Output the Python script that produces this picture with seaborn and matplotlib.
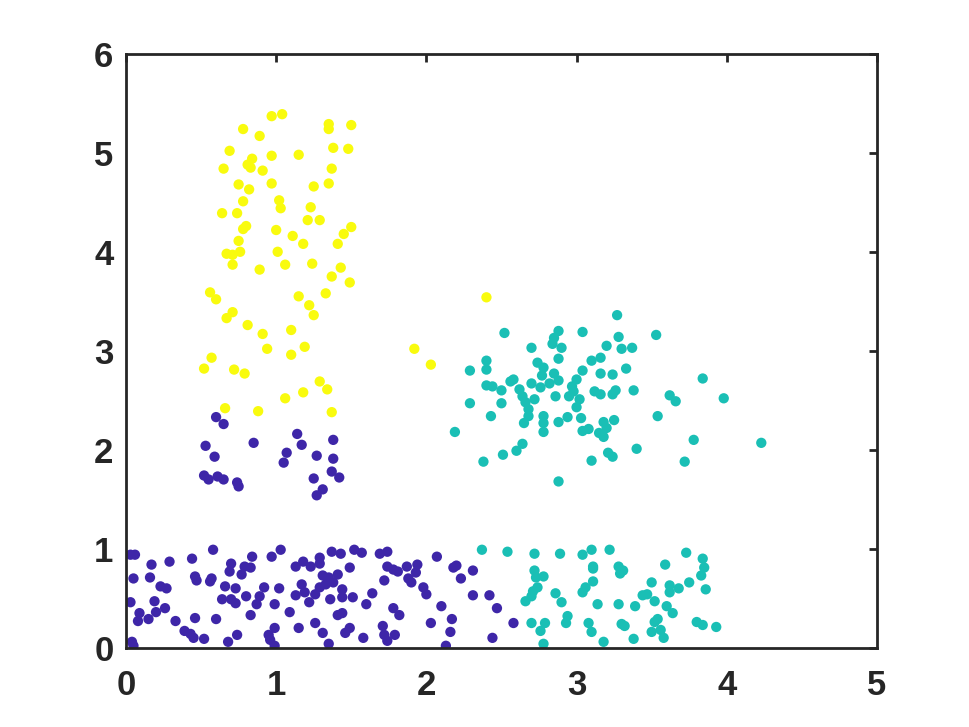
import numpy as np
import pandas as pd
import matplotlib
matplotlib.use("Agg")
import matplotlib.pyplot as plt
import seaborn as sns

# ---- data: three clusters ----
purple_x = [0.60, 0.65, 0.53, 0.59, 0.85, 0.52, 0.55, 0.61, 0.65, 0.74, 0.75, 1.14, 1.17, 1.07,
            1.05, 1.27, 1.38, 1.38, 1.37, 1.42, 1.25, 1.31, 1.27,
            0.03, 0.06, 0.58, 0.17, 0.29, 0.44, 0.05, 0.16, 0.23, 0.27, 0.46, 0.47, 0.56, 0.57,
            0.70, 0.69, 0.77, 0.79, 0.83, 0.84, 0.97, 1.03, 0.66, 0.73, 0.80, 0.87, 0.89, 0.92,
            1.02, 0.99, 1.13, 1.13, 0.03, 0.19, 0.20, 0.26, 0.09, 0.08, 0.15, 0.33, 0.46, 0.60,
            0.64, 0.70, 0.73, 0.83, 1.09, 0.39, 0.43, 0.45, 0.52, 0.68, 0.74, 0.04, 0.05, 0.95,
            0.99, 0.96, 0.99, 1.15,
            1.37, 1.43, 1.52, 1.57, 1.69, 1.74, 2.07, 1.18, 1.23, 1.29, 1.29, 1.49, 1.74, 1.78,
            1.81, 1.87, 1.94, 1.93, 1.88, 1.90, 2.18, 2.20, 2.23, 1.31, 1.35, 1.41, 1.17, 1.72,
            1.33, 1.38, 1.29, 1.19, 1.26, 1.22, 1.44, 1.44, 1.51, 1.36, 1.64, 1.60, 1.98, 2.00,
            1.78, 1.82, 1.41, 1.44, 2.10, 2.17, 2.03, 1.26, 1.31, 1.46, 1.49, 1.71, 1.72, 1.79,
            1.74, 1.58, 1.35, 2.16, 2.13,
            2.31, 2.31, 2.42, 2.47, 2.58, 2.44]
purple_y = [2.33, 2.26, 2.04, 1.93, 2.07, 1.74, 1.70, 1.73, 1.70, 1.67, 1.63, 2.16, 2.05, 1.97,
            1.87, 1.94, 2.10, 1.91, 1.78, 1.72, 1.71, 1.60, 1.54,
            0.94, 0.94, 0.99, 0.84, 0.87, 0.90, 0.70, 0.71, 0.62, 0.60, 0.72, 0.68, 0.67, 0.70,
            0.85, 0.77, 0.74, 0.82, 0.81, 0.92, 0.92, 0.99, 0.62, 0.60, 0.52, 0.44, 0.52, 0.61,
            0.60, 0.44, 0.82, 0.53, 0.46, 0.47, 0.36, 0.40, 0.35, 0.27, 0.29, 0.27, 0.30, 0.29,
            0.49, 0.49, 0.45, 0.33, 0.36, 0.17, 0.14, 0.10, 0.09, 0.06, 0.13, 0.06, 0.02, 0.13,
            0.20, 0.08, 0.02, 0.20,
            0.97, 0.95, 0.99, 0.96, 0.95, 0.97, 0.92, 0.87, 0.82, 0.91, 0.85, 0.81, 0.82, 0.79,
            0.77, 0.82, 0.84, 0.76, 0.70, 0.66, 0.81, 0.83, 0.70, 0.73, 0.71, 0.74, 0.64, 0.68,
            0.64, 0.66, 0.61, 0.56, 0.54, 0.46, 0.59, 0.51, 0.51, 0.49, 0.55, 0.44, 0.61, 0.54,
            0.40, 0.33, 0.33, 0.35, 0.42, 0.29, 0.25, 0.25, 0.15, 0.15, 0.20, 0.22, 0.13, 0.13,
            0.07, 0.10, 0.04, 0.16, 0.02,
            0.78, 0.53, 0.53, 0.40, 0.25, 0.10]

teal_x = [2.52, 2.88, 3.04, 2.85, 2.84, 2.90, 2.70, 3.20, 2.88, 2.40, 2.40, 2.29, 2.74, 2.78,
          3.10, 3.16, 3.04, 3.16, 2.85, 2.77, 2.88, 3.00, 2.58, 2.56, 2.70, 2.82, 2.76, 2.40,
          2.44, 2.50, 2.62, 2.97, 2.98, 2.64, 2.72, 2.66, 2.95, 3.12, 3.16, 2.86, 3.02, 3.00,
          2.29, 2.50, 2.68, 2.68, 2.43, 2.78, 2.78, 2.94, 2.88, 2.65, 3.03, 3.18, 3.08, 3.04,
          3.15, 3.18, 2.78, 2.19, 2.64, 2.60, 2.51, 2.38, 3.10, 3.21, 2.88,
          3.27, 3.53, 3.28, 3.30, 3.37, 3.24, 3.33, 3.84, 3.26, 3.24, 3.38, 3.62, 3.66, 3.98,
          3.54, 3.25, 3.20, 3.78, 4.23, 3.40, 3.24, 3.72,
          2.37, 2.54, 2.72, 2.89, 3.04, 3.10, 3.22, 2.72, 2.73, 2.78, 3.11, 3.11, 3.11, 3.06,
          3.04, 3.28, 3.31, 3.29, 2.74, 2.71, 2.70, 2.66, 2.86, 2.90, 3.14, 3.28, 3.39, 2.94,
          2.93, 2.70, 2.79, 2.76, 3.08, 3.10, 3.30, 3.32, 2.78, 3.18, 3.38,
          3.73, 3.84, 3.85, 3.83, 3.59, 3.50, 3.62, 3.62, 3.68, 3.75, 3.86, 3.44, 3.47, 3.52,
          3.60, 3.64, 3.54, 3.52, 3.50, 3.56, 3.58, 3.80, 3.84, 3.93]
teal_y = [3.18, 3.20, 3.19, 3.13, 3.07, 3.03, 3.03, 3.05, 2.92, 2.90, 2.81, 2.80, 2.88, 2.83,
          2.90, 2.93, 2.80, 2.77, 2.77, 2.75, 2.70, 2.71, 2.71, 2.69, 2.67, 2.67, 2.63, 2.65,
          2.64, 2.60, 2.61, 2.64, 2.59, 2.54, 2.51, 2.48, 2.54, 2.59, 2.56, 2.54, 2.51, 2.43,
          2.47, 2.47, 2.41, 2.34, 2.34, 2.34, 2.27, 2.33, 2.28, 2.27, 2.32, 2.28, 2.21, 2.19,
          2.17, 2.13, 2.18, 2.18, 2.06, 1.99, 1.95, 1.88, 1.89, 1.97, 1.68,
          3.36, 3.16, 3.14, 3.02, 3.03, 2.76, 2.82, 2.72, 2.60, 2.56, 2.60, 2.55, 2.49, 2.52,
          2.34, 2.30, 2.22, 2.10, 2.07, 2.01, 1.93, 1.88,
          0.99, 0.97, 0.95, 0.95, 0.94, 0.99, 0.99, 0.78, 0.71, 0.72, 0.82, 0.80, 0.67, 0.61,
          0.56, 0.82, 0.78, 0.75, 0.61, 0.57, 0.52, 0.47, 0.55, 0.46, 0.44, 0.44, 0.42, 0.32,
          0.25, 0.25, 0.25, 0.17, 0.25, 0.16, 0.24, 0.22, 0.04, 0.06, 0.09,
          0.96, 0.90, 0.81, 0.73, 0.84, 0.66, 0.63, 0.56, 0.60, 0.66, 0.59, 0.53, 0.54, 0.47,
          0.42, 0.35, 0.29, 0.26, 0.16, 0.18, 0.10, 0.26, 0.23, 0.21]

yellow_x = [0.97, 1.04, 0.78, 0.89, 1.35, 1.35, 1.50, 0.69, 1.38, 1.48, 0.84, 0.97, 1.15, 0.81,
            0.83, 0.65, 0.91, 1.37, 0.75, 0.97, 0.82, 1.25, 1.35, 0.78, 1.02, 1.03, 1.23, 0.64,
            0.74, 1.21, 1.29, 0.78, 0.80, 1.00, 1.11, 1.18, 1.50, 1.45, 1.41, 0.75, 1.01, 0.67,
            0.71, 0.76, 0.71, 0.89, 1.06, 1.24, 1.43, 1.37, 1.49, 0.56, 0.60, 1.15, 1.33, 1.22,
            1.25, 0.71, 0.67, 0.81, 1.10, 0.91, 0.94, 1.19, 1.10, 0.57, 0.52, 0.72, 0.79, 1.29,
            1.34, 1.18, 1.06, 0.66, 0.88, 1.37, 1.92, 2.03, 2.40]
yellow_y = [5.37, 5.39, 5.24, 5.17, 5.29, 5.24, 5.28, 5.02, 5.05, 5.04, 4.94, 4.97, 4.98, 4.88,
            4.85, 4.84, 4.82, 4.84, 4.68, 4.69, 4.63, 4.66, 4.69, 4.51, 4.52, 4.44, 4.45, 4.39,
            4.39, 4.32, 4.32, 4.23, 4.26, 4.22, 4.16, 4.08, 4.25, 4.18, 4.08, 4.11, 4.00, 3.98,
            3.97, 4.00, 3.87, 3.82, 3.87, 3.88, 3.84, 3.75, 3.69, 3.59, 3.52, 3.55, 3.58, 3.46,
            3.36, 3.39, 3.33, 3.26, 3.21, 3.17, 3.02, 3.04, 2.96, 2.93, 2.82, 2.81, 2.77, 2.69,
            2.61, 2.58, 2.52, 2.42, 2.39, 2.38, 3.02, 2.86, 3.54]

cluster_names = ["1", "2", "3"]
cluster_colors = ["#3E26A8", "#1ABFB5", "#F9FB0E"]

df = pd.concat([
    pd.DataFrame({"x": purple_x, "y": purple_y, "cluster": cluster_names[0]}),
    pd.DataFrame({"x": teal_x, "y": teal_y, "cluster": cluster_names[1]}),
    pd.DataFrame({"x": yellow_x, "y": yellow_y, "cluster": cluster_names[2]}),
], ignore_index=True)

# ---- plot ----
sns.set_style("white")
plt.rcParams["font.family"] = ["Liberation Sans", "DejaVu Sans"]

fig = plt.figure(figsize=(9.69, 7.27), dpi=100)
ax = fig.add_axes([0.13, 0.109, 0.775, 0.817])

sns.scatterplot(data=df, x="x", y="y", hue="cluster", palette=cluster_colors,
                hue_order=cluster_names, s=55, linewidth=0, legend=False, ax=ax)

ax.set_xlim(0, 5)
ax.set_ylim(0, 6)
ax.set_xticks(range(0, 6))
ax.set_yticks(range(0, 7))
ax.set_xlabel("")
ax.set_ylabel("")
for sp in ax.spines.values():
    sp.set_visible(True)
    sp.set_color("#262626")
    sp.set_linewidth(2.0)
ax.tick_params(direction="in", length=6, width=2.0, color="#262626",
               top=True, right=True, labelsize=25, labelcolor="#262626")
ax.tick_params(axis="x", pad=15)
ax.tick_params(axis="y", pad=9)
for lbl in ax.get_xticklabels() + ax.get_yticklabels():
    lbl.set_fontweight("bold")

fig.savefig("out.png", dpi=100, facecolor="white")
